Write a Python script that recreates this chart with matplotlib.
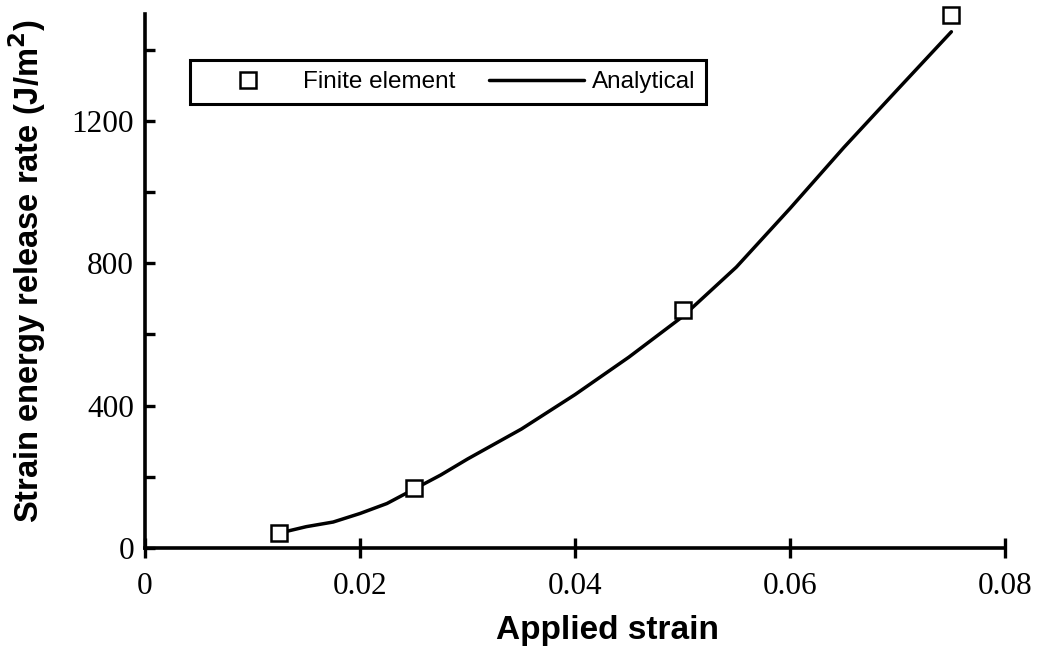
import numpy as np
import matplotlib
matplotlib.use("Agg")
import matplotlib.pyplot as plt
from matplotlib.ticker import MultipleLocator, FixedLocator, FixedFormatter

# Finite element results (squares)
fe_strain = [0.0125, 0.025, 0.05, 0.075]
fe_G = [42, 168, 668, 1496]

# Analytical curve
an_strain = [0.0125, 0.015, 0.0175, 0.02, 0.0225, 0.025, 0.0275, 0.03, 0.035,
             0.04, 0.045, 0.05, 0.055, 0.06, 0.065, 0.07, 0.075]
an_G = [42, 60, 73, 97, 125, 165, 205, 250, 334,
        431, 536, 650, 789, 954, 1125, 1288, 1450]

x_ticks = [0, 0.02, 0.04, 0.06, 0.08]
x_ticklabels = ["0", "0.02", "0.04", "0.06", "0.08"]

serif = "Liberation Serif"
sans = "Liberation Sans"

fig = plt.figure(figsize=(10.47, 6.56), dpi=100)
ax = fig.add_axes([0.1385, 0.1646, 0.8215, 0.8141])

ax.plot(an_strain, an_G, color="black", linewidth=2.5, label="Analytical",
        solid_capstyle="round", solid_joinstyle="round")
ax.plot(fe_strain, fe_G, linestyle="none", marker="s", markersize=11,
        markerfacecolor="white", markeredgecolor="black", markeredgewidth=1.8,
        label="Finite element", clip_on=False, zorder=3)

ax.set_xlim(0, 0.08)
ax.set_ylim(0, 1500)

for side in ["top", "right"]:
    ax.spines[side].set_visible(False)
for side in ["left", "bottom"]:
    ax.spines[side].set_linewidth(2.6)

ax.xaxis.set_major_locator(FixedLocator(x_ticks))
ax.xaxis.set_major_formatter(FixedFormatter(x_ticklabels))
ax.yaxis.set_major_locator(MultipleLocator(400))
ax.yaxis.set_minor_locator(MultipleLocator(200))

ax.tick_params(axis="x", direction="inout", length=14, width=2.4, pad=10,
               labelsize=22.5)
ax.tick_params(axis="y", which="both", direction="in", length=7, width=2.4,
               pad=8, labelsize=22.5)
for lab in ax.get_xticklabels() + ax.get_yticklabels():
    lab.set_fontfamily(serif)

ax.set_xlabel("Applied strain", fontsize=24, fontweight="bold", family=sans,
              va="center")
ax.xaxis.set_label_coords(0.538, -0.155)
ax.set_ylabel("Strain energy release rate (J/m$^\\mathbf{2}$)", fontsize=23.5,
              fontweight="bold", family=sans, va="center")
ax.yaxis.set_label_coords(-0.137, 0.519)

handles, labels = ax.get_legend_handles_labels()
leg = ax.legend(handles[::-1], labels[::-1], ncol=2, loc="upper left",
                bbox_to_anchor=(0.052, 0.914), borderaxespad=0,
                prop={"family": sans, "size": 17.5}, handlelength=3.9,
                handletextpad=0.3, columnspacing=1.4, borderpad=0.46,
                fancybox=False, framealpha=1, edgecolor="black")
leg.get_frame().set_linewidth(2.2)

fig.savefig("out.png", dpi=100)
